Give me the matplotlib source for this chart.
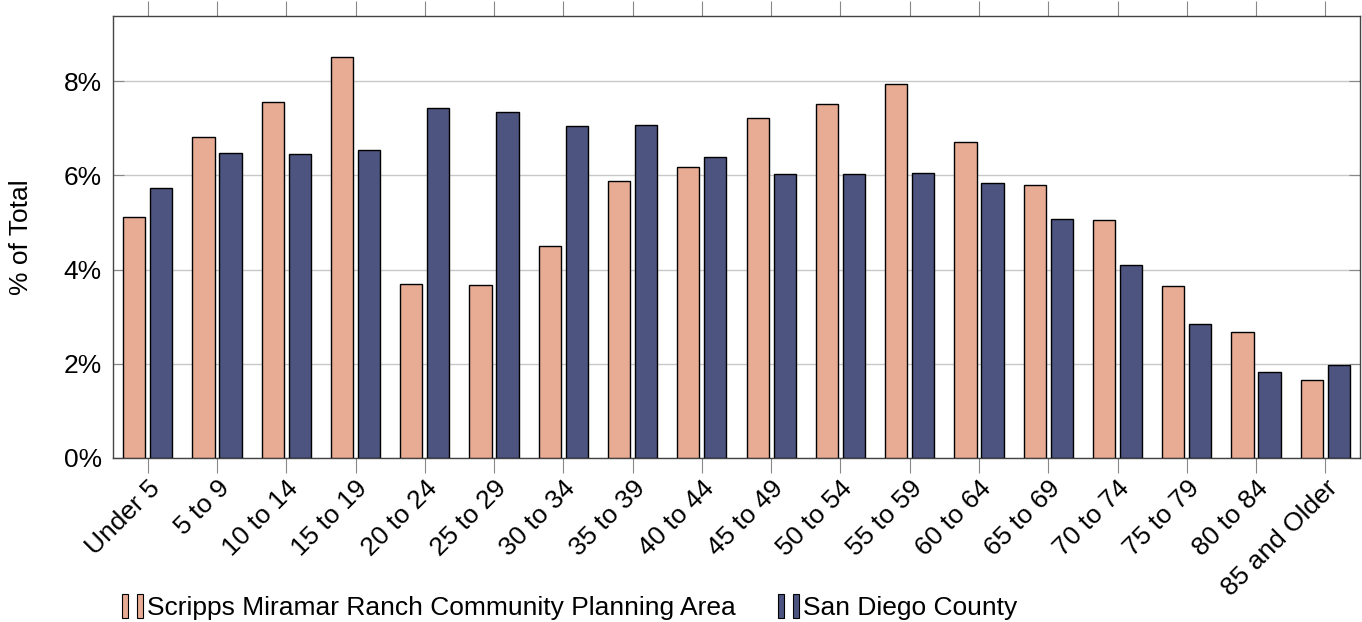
import numpy as np
import matplotlib.pyplot as plt
from matplotlib.patches import Rectangle
from matplotlib.legend_handler import HandlerTuple
from matplotlib.ticker import FuncFormatter

plt.rcParams['font.family'] = ['Liberation Sans', 'DejaVu Sans']

# age groups
ages = ["Under 5", "5 to 9", "10 to 14", "15 to 19", "20 to 24", "25 to 29",
        "30 to 34", "35 to 39", "40 to 44", "45 to 49", "50 to 54", "55 to 59",
        "60 to 64", "65 to 69", "70 to 74", "75 to 79", "80 to 84", "85 and Older"]

# % of total population
scripps = [5.11, 6.81, 7.55, 8.51, 3.69, 3.67, 4.50, 5.88, 6.18, 7.21, 7.51, 7.94,
           6.71, 5.79, 5.05, 3.65, 2.67, 1.66]
sd_county = [5.73, 6.47, 6.45, 6.54, 7.43, 7.34, 7.05, 7.07, 6.39, 6.03, 6.03, 6.05,
             5.84, 5.07, 4.10, 2.84, 1.82, 1.97]

names = ["Scripps Miramar Ranch Community Planning Area", "San Diego County"]
colors = ["#E8AB93", "#4D547F"]

fig = plt.figure(figsize=(13.62, 6.22), dpi=100)
ax = fig.add_axes([0.083, 0.2637, 0.9155, 0.7103])

x = np.arange(len(ages))
w = 0.32
ax.bar(x - 0.195, scripps, w, color=colors[0], edgecolor="black", linewidth=1.0, zorder=3)
ax.bar(x + 0.195, sd_county, w, color=colors[1], edgecolor="black", linewidth=1.0, zorder=3)

ax.set_xlim(-0.5, len(ages) - 0.5)
ax.set_ylim(0, 9.38)
ax.set_yticks([0, 2, 4, 6, 8])
ax.yaxis.set_major_formatter(FuncFormatter(lambda v, p: f"{v:.0f}%"))
ax.grid(axis="y", color="#c8c8c8", linewidth=1.0, zorder=0)

ax.set_xticks(x)
ax.set_xticklabels(ages, rotation=45, ha="right", rotation_mode="anchor", fontsize=19)
ax.tick_params(axis="x", direction="out", length=11, color="#888888", top=True,
               pad=2)
ax.tick_params(axis="y", direction="in", length=8, color="#888888", right=True,
               labelsize=19, pad=8)
ax.set_ylabel("% of Total", fontsize=19, labelpad=22)

for s in ax.spines.values():
    s.set_color("#444444")
    s.set_linewidth(1.0)

handles = []
for c in colors:
    r1 = Rectangle((0, 0), 1, 1, facecolor=c, edgecolor="black", linewidth=0.8)
    r2 = Rectangle((0, 0), 1, 1, facecolor=c, edgecolor="black", linewidth=0.8)
    handles.append((r1, r2))

fig.legend(handles, names, handler_map={tuple: HandlerTuple(ndivide=None, pad=0.35)},
           loc="lower left", bbox_to_anchor=(0.072, -0.035), ncol=2, frameon=False,
           fontsize=19, handlelength=0.8, handleheight=1.0, handletextpad=0.15,
           columnspacing=1.6)

fig.savefig("out.png", dpi=100)
